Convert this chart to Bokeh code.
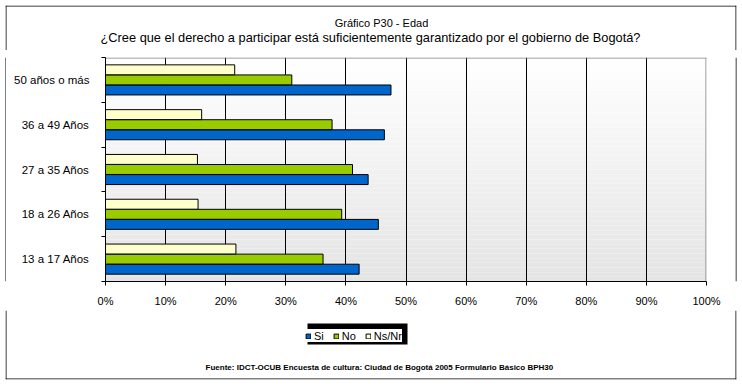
from bokeh.plotting import figure
from bokeh.layouts import column, row
from bokeh.models import (ColumnDataSource, FixedTicker, PrintfTickFormatter, Label, Span,
                          Legend, LegendItem, BoxAnnotation)
from bokeh.transform import dodge
from bokeh.embed import file_html
from bokeh.resources import INLINE

# ---- data ----
categories = ["13 a 17 Años", "18 a 26 Años", "27 a 35 Años", "36 a 49 Años", "50 años o más"]
si = [42.2, 45.4, 43.7, 46.4, 47.5]
no = [36.2, 39.3, 41.1, 37.7, 31.0]
nsnr = [21.7, 15.4, 15.3, 16.0, 21.5]
series = ["Si", "No", "Ns/Nr"]
colors = ["#0066CC", "#99CC00", "#FFFFCC"]
x_ticks = list(range(0, 101, 10))
title1 = "Gráfico P30 - Edad"
title2 = "¿Cree que el derecho a participar está suficientemente garantizado por el gobierno de Bogotá?"
source_text = "Fuente: IDCT-OCUB Encuesta de cultura: Ciudad de Bogotá 2005 Formulario Básico  BPH30"

FONT = "Liberation Sans"
pos = [i + 0.5 for i in range(len(categories))]
src = ColumnDataSource(dict(y=pos, Si=si, No=no, NsNr=nsnr))
keys = ["Si", "No", "NsNr"]
offsets = [-0.225, 0.0, 0.225]


def blank(width, height, **borders):
    f = figure(width=width, height=height, output_backend="svg", toolbar_location=None,
               x_axis_location=None, y_axis_location=None, min_border=0,
               x_range=(0, 1), y_range=(0, 1),
               background_fill_color="white", border_fill_color="white", **borders)
    f.outline_line_color = None
    f.grid.visible = False
    return f


def vline(fig, x):
    fig.add_layout(Span(location=x, location_units="screen", dimension="height",
                        line_color="black", line_width=1))


def hline(fig, y):
    fig.add_layout(Span(location=y, location_units="screen", dimension="width",
                        line_color="black", line_width=1))


def scr_box(**kw):
    return BoxAnnotation(left_units="screen", right_units="screen",
                         bottom_units="screen", top_units="screen", **kw)


# ---------- top strip: titles (frame = x 5..736, y 5..50) ----------
top = blank(741, 50, min_border_left=5, min_border_right=5, min_border_top=5)
hline(top, 44.5)
vline(top, 0.5)
vline(top, 730.5)
top.add_layout(Label(x=376, y=28, x_units="screen", y_units="screen", text=title1,
                     text_align="center", text_baseline="alphabetic", text_font=FONT,
                     text_font_size="11px", text_color="black"))
top.add_layout(Label(x=365, y=13, x_units="screen", y_units="screen", text=title2,
                     text_align="center", text_baseline="alphabetic", text_font=FONT,
                     text_font_size="12.8px", text_color="black"))

# ---------- main plot ----------
PW, PH = 601, 224   # plot-area size in pixels
p = figure(width=729, height=260, x_range=(0, 100), y_range=(0, len(categories)),
           output_backend="svg", toolbar_location=None,
           min_border_left=99, min_border_right=29, min_border_top=7, min_border_bottom=29,
           background_fill_color="white", border_fill_color="white")
p.outline_line_color = None

n = 48
ymax = len(categories)
for k in range(n):
    t = k / (n - 1)
    c = int(round(0xe4 + (0xff - 0xe4) * t))
    p.add_layout(BoxAnnotation(bottom=ymax * k / n, top=ymax * (k + 1) / n,
                               fill_color=f"#{c:02x}{c:02x}{c:02x}", fill_alpha=1,
                               line_color=None, level="image"))
# grey border of the plot area (top and right)
p.add_layout(scr_box(left=0, right=PW, top=PH, bottom=PH - 1, fill_color="#808080",
                     fill_alpha=1, line_color=None, level="underlay"))
p.add_layout(scr_box(left=PW - 1, right=PW, top=PH, bottom=0, fill_color="#808080",
                     fill_alpha=1, line_color=None, level="underlay"))

for key, off, col in zip(keys, offsets, colors):
    p.hbar(y=dodge("y", off), left=0, right=key, height=0.222, source=src,
           fill_color=col, line_color="black", line_width=1)

p.xaxis.ticker = FixedTicker(ticks=x_ticks)
p.xaxis.formatter = PrintfTickFormatter(format="%d%%")
p.xaxis.major_tick_out = 4
p.xaxis.major_tick_in = 0
p.xaxis.minor_tick_line_color = None
p.xaxis.axis_line_color = "black"
p.xaxis.major_tick_line_color = "black"
p.xaxis.major_label_standoff = 9
p.xaxis.major_label_text_font = FONT
p.xaxis.major_label_text_font_size = "11px"
p.xaxis.major_label_text_color = "black"

p.yaxis.ticker = FixedTicker(ticks=pos, minor_ticks=list(range(len(categories) + 1)))
p.yaxis.major_label_overrides = {pp: c for pp, c in zip(pos, categories)}
p.yaxis.major_tick_out = 0
p.yaxis.major_tick_in = 0
p.yaxis.minor_tick_out = 4
p.yaxis.minor_tick_in = 0
p.yaxis.minor_tick_line_color = "black"
p.yaxis.axis_line_color = "black"
p.yaxis.major_label_standoff = 12
p.yaxis.major_label_text_font = FONT
p.yaxis.major_label_text_font_size = "11.5px"
p.yaxis.major_label_text_color = "black"

p.xgrid.ticker = FixedTicker(ticks=x_ticks[1:-1])
p.xgrid.grid_line_color = "black"
p.ygrid.grid_line_color = None

left_edge = blank(6, 260)
vline(left_edge, 5.5)
right_edge = blank(6, 260)
vline(right_edge, 0.5)

# ---------- bottom strip: legend + source (frame = x 5..736, y 310..379) ----------
bot = blank(741, 74, min_border_left=5, min_border_right=5, min_border_bottom=5)
hline(bot, 0.5)
vline(bot, 0.5)
vline(bot, 730.5)
leg_rends = []
for key, off, col in zip(keys, offsets, colors):
    r = bot.hbar(y="y", left=0, right=key, height=0.2, source=src,
                 fill_color=col, line_color="black", line_width=1, visible=False)
    leg_rends.append(r)
bot.add_layout(scr_box(left=302, right=402, top=56, bottom=35, fill_color="black",
                       fill_alpha=1, line_color=None, level="underlay"))   # legend shadow
legend = Legend(items=[LegendItem(label=s, renderers=[r]) for s, r in zip(series, leg_rends)],
                orientation="horizontal", location=(300, 37),
                glyph_width=6, glyph_height=6, label_standoff=3, spacing=9,
                padding=4, margin=0, label_height=13, label_width=0,
                label_text_font=FONT, label_text_font_size="11px",
                label_text_color="black", label_text_baseline="middle",
                border_line_color=None, background_fill_color="white",
                background_fill_alpha=1, inactive_fill_alpha=0)
bot.add_layout(legend)
bot.add_layout(Label(x=375, y=12, x_units="screen", y_units="screen", text=source_text,
                     text_align="center", text_baseline="alphabetic", text_font=FONT,
                     text_font_size="8px", text_font_style="bold", text_color="black"))

layout = column(top, row(left_edge, p, right_edge), bot)

open("out.html", "w").write(file_html(layout, INLINE))
